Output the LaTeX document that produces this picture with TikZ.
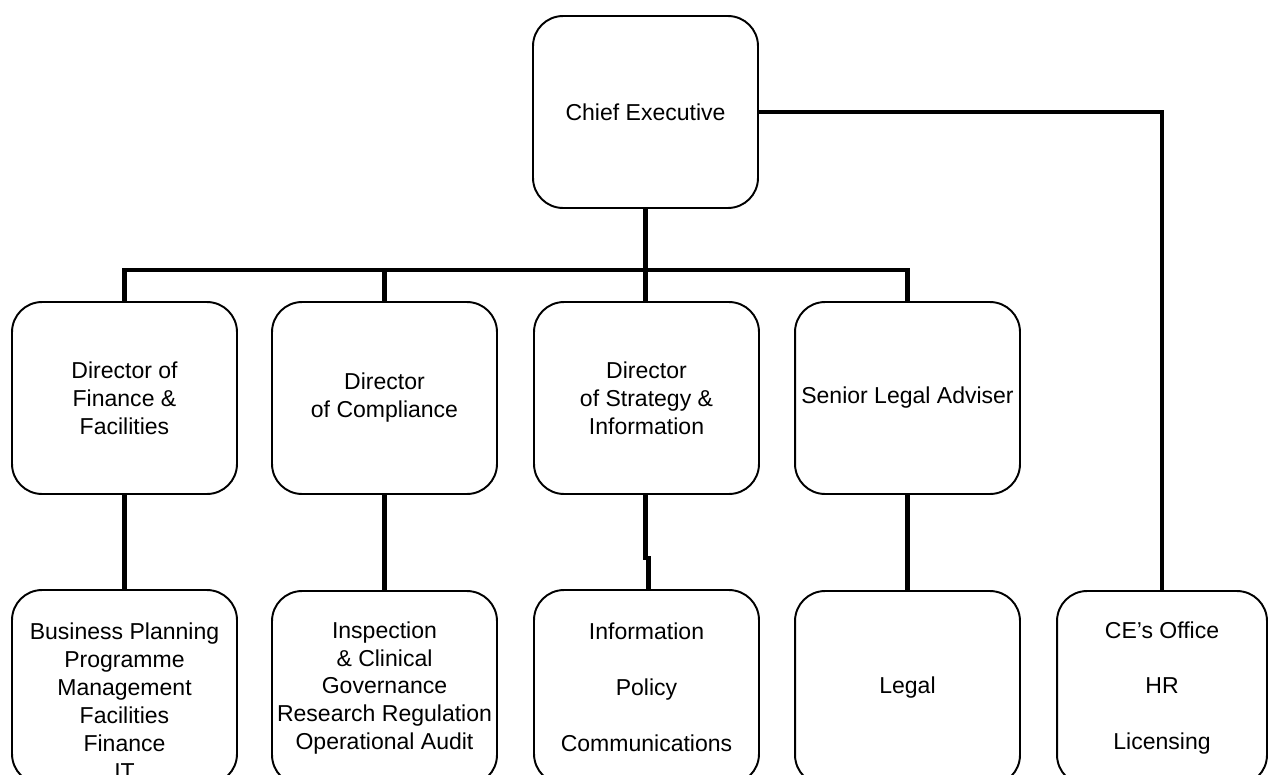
\documentclass[tikz,border=0pt]{standalone}
\usepackage{fontspec}
\setmainfont{Liberation Sans}
\usetikzlibrary{calc}

\begin{document}
\begin{tikzpicture}[x=0.02cm, y=-0.02cm,
    unit/.style={draw, line width=1.1pt, rounded corners=0.6cm,
        minimum width=4.5cm, minimum height=3.84cm, inner sep=0pt,
        align=center, font=\fontsize{13.1}{15.9}\selectfont},
    team/.style={unit, minimum height=3.88cm},
    link/.style={line width=2.7pt}]
                % Frame
                \useasboundingbox (0,0) rectangle (1270,774);
                \clip (0,0) rectangle (1270,774);
                
                % Top
                \node[unit] (ce) at (645.5,112) {Chief Executive};
                
                % Directors
                \node[unit] (dfin) at (124.5,398) {Director of\\Finance \&\\Facilities};
                \node[unit] (dcom) at (384.5,398) {Director\\of Compliance};
                \node[unit] (dstr) at (646.5,398) {Director\\of Strategy \&\\Information};
                \node[unit] (dleg) at (907.5,398) {Senior Legal Adviser};
                
                % Teams
                \node[team] (tfin) at (124.5,687) {\rule{0pt}{25.5pt}Business Planning\\Programme\\Management\\Facilities\\Finance\\IT};
                \node[team] (tcom) at (384.5,688) {Inspection\\\& Clinical\\Governance\\Research Regulation\\Operational Audit};
                \node[team] (tstr) at (646.5,687) {Information\\[15.9pt]Policy\\[15.9pt]Communications};
                \node[team] (tleg) at (907.5,688) {Legal};
                \node[team, minimum width=4.2cm] (toff) at (1162,688) {CE's Office\\[15.9pt]HR\\[15.9pt]Licensing};
                
                % Bus
                \coordinate (bus) at (0,270);
                \draw[link] (ce.south) -- (ce.south |- dstr.north);
                \draw[link] (dfin.north) |- (dleg.north |- bus) -- (dleg.north);
                \draw[link] (dcom.north) -- (dcom.north |- bus);
                \draw[link] (ce.east) -| (toff.north);
                
                % Director to team
                \draw[link] (dfin.south) -- (tfin.north);
                \draw[link] (dcom.south) -- (tcom.north);
                \draw[link] ([xshift=-0.6pt]dstr.south) -- ++(0,63) -| ([xshift=1pt]tstr.north);
                \draw[link] (dleg.south) -- (tleg.north);
            \end{tikzpicture}
\end{document}
